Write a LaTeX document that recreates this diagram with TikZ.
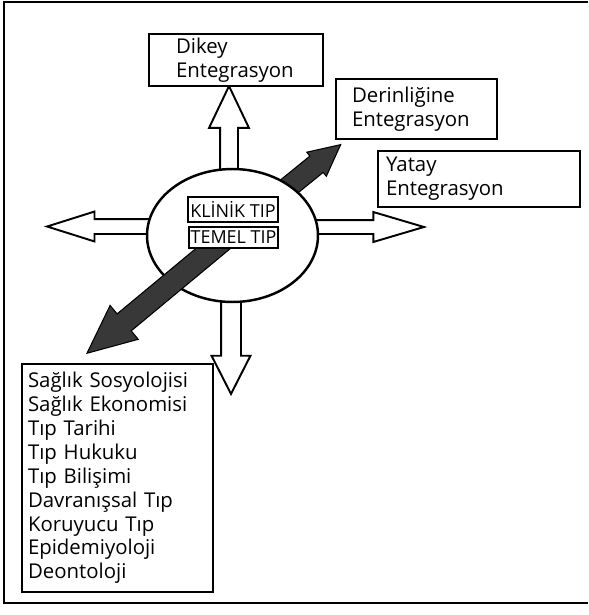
\documentclass[tikz,border=0pt]{standalone}
\usepackage{fontspec}
\setmainfont{Open Sans}
\usetikzlibrary{shapes.geometric,shapes.arrows,backgrounds}
\tikzset{
  box/.style={draw=black, line width=1pt, fill=white, align=left, inner ysep=0pt, font=\fontsize{11.6}{13.6}\selectfont},
  tipbox/.style={draw=black, line width=1pt, fill=white, inner sep=0pt, font=\fontsize{10.2}{10}\selectfont},
  hollow/.style={single arrow, draw=black, line width=1.1pt, fill=white, inner xsep=0pt, single arrow head indent=0pt, anchor=tail},
  dark/.style={single arrow, draw=black, line width=0.6pt, fill=black!78, inner xsep=0pt, single arrow head indent=0pt, anchor=tail},
}
\begin{document}
\begin{tikzpicture}[x=0.02cm, y=0.02cm]
\useasboundingbox (0,0) rectangle (588,-615);
\draw [line width=1.4pt] (588,-2) -- (4,-2) -- (4,-603) -- (588,-603);
\node [ellipse, draw, line width=1.4pt, fill=white, minimum width=3.42cm, minimum height=2.66cm, inner sep=0pt] (core) at (232.5,-235.5) {};
\node [box, text width=2.4cm, inner xsep=0.54cm, minimum height=1.04cm] (dikey) at (236,-60) {Dikey\\Entegrasyon};
\node [box, text width=2.58cm, inner xsep=0.32cm, minimum height=1.2cm] (derin) at (416.5,-109) {Derinliğine\\Entegrasyon};
\node [box, text width=3.72cm, inner xsep=0.16cm, minimum height=1.12cm] (yatay) at (479,-179) {Yatay\\Entegrasyon};
\node [box, text width=3.58cm, inner xsep=0.12cm, minimum height=4.56cm] (dersler) at (117.5,-478) {Sağlık Sosyolojisi\\Sağlık Ekonomisi\\Tıp Tarihi\\Tıp Hukuku\\Tıp Bilişimi\\Davranışsal Tıp\\Koruyucu Tıp\\Epidemiyoloji\\Deontoloji};
\coordinate (cross) at (227,-237);
\begin{scope}[on background layer]
\node [hollow, rotate=90, minimum height=2.97cm, inner ysep=0.16cm, single arrow head extend=0.22cm, single arrow tip angle=51] (up) at ([xshift=-0.07cm]core.center) {};
\node [hollow, rotate=180, minimum height=3.69cm, inner ysep=0.13cm, single arrow head extend=0.15cm, single arrow tip angle=35] (left) at ([yshift=0.18cm]core.center) {};
\node [hollow, rotate=0, minimum height=3.81cm, inner ysep=0.12cm, single arrow head extend=0.16cm, single arrow tip angle=33] (right) at ([yshift=0.17cm]core.center) {};
\node [hollow, rotate=-90, minimum height=3.15cm, inner ysep=0.18cm, single arrow head extend=0.19cm, single arrow tip angle=54] (down) at ([xshift=-0.03cm]core.center) {};
\node [dark, rotate=39.1, minimum height=2.92cm, inner ysep=0.2cm, single arrow head extend=0.1cm, single arrow tip angle=53] (deep) at (cross) {};
\end{scope}
\node [dark, rotate=219.7, minimum height=3.63cm, inner ysep=0.21cm, single arrow head extend=0.22cm, single arrow tip angle=49] (base) at (cross) {};
\node [tipbox, minimum width=1.8cm, minimum height=0.5cm] (klinik) at (233,-209.5) {KLİNİK TIP};
\node [tipbox, minimum width=1.78cm, minimum height=0.42cm] (temel) at (233.5,-237.5) {TEMEL TIP};
\end{tikzpicture}
\end{document}
